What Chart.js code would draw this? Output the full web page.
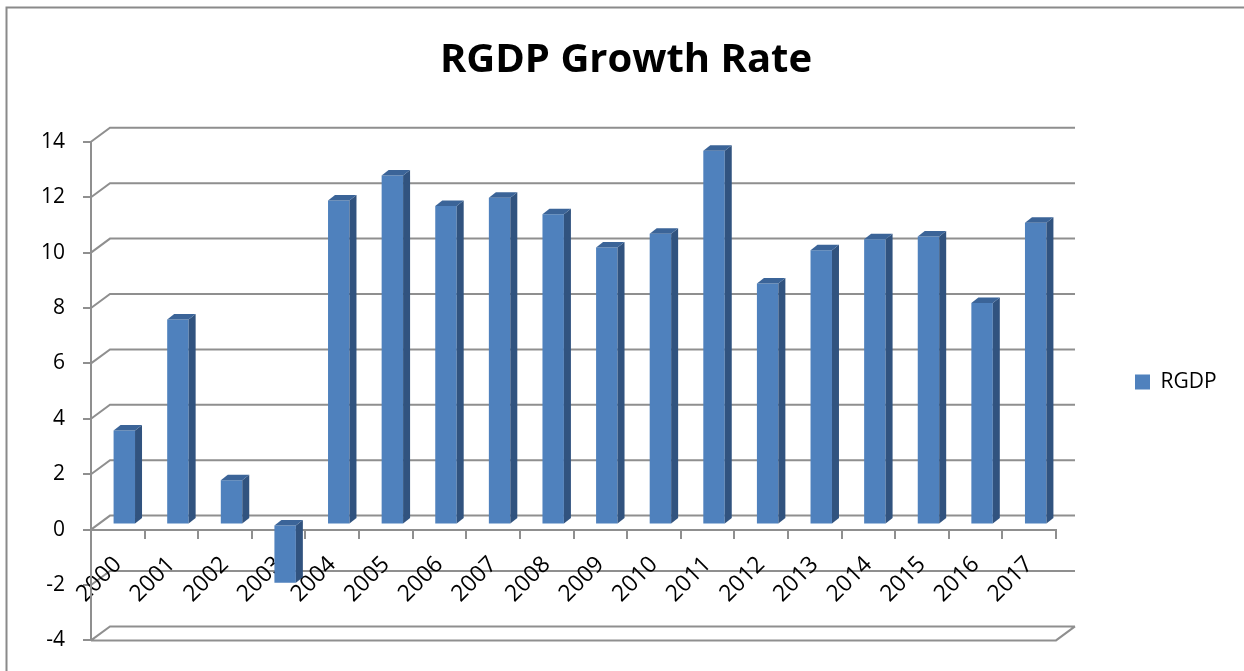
<!DOCTYPE html>
<html>
<head>
<meta charset="utf-8">
<style>
html,body{margin:0;padding:0;background:#fff;}
canvas{display:block;}
</style>
<script src="https://cdn.jsdelivr.net/npm/chart.js@4.4.1/dist/chart.umd.min.js"></script>
</head>
<body>
<canvas id="chart" width="1244" height="671"></canvas>
<script>
// ---- data ----
const titleText = 'RGDP Growth Rate';
const seriesName = 'RGDP';
const categories = ['2000','2001','2002','2003','2004','2005','2006','2007','2008','2009','2010','2011','2012','2013','2014','2015','2016','2017'];
const rgdpValues = [3.4, 7.4, 1.6, -2.1, 11.7, 12.6, 11.5, 11.8, 11.2, 10.0, 10.5, 13.5, 8.7, 9.9, 10.3, 10.4, 8.0, 10.9];
const yTickValues = [-4, -2, 0, 2, 4, 6, 8, 10, 12, 14];

// ---- style ----
const FONT = 'Open Sans';
const GRID = '#8f8f8f';
const FRONT = '#4f81bd';
const SIDE = '#31537f';
const TOPC = '#3b6498';
const WALL = {dx: 19, dy: 14};      // depth of the back wall
const BAR_SHIFT = {dx: 6.5, dy: -5}; // bar plane inside the depth
const BAR_DEPTH = {dx: 7, dy: 5.5};  // bar 3d thickness

const LEGEND_FONT = 21, LEGEND_BOX = 15, LEGEND_PAD = 10;
const mctx = document.createElement('canvas').getContext('2d');
mctx.font = LEGEND_FONT + 'px ' + FONT;
const legendW = LEGEND_BOX + LEGEND_FONT / 2 + mctx.measureText(seriesName).width + LEGEND_PAD + 10;
const AREA_RIGHT = 1056;

const threeD = {
  id: 'threeD',
  beforeDraw(chart) {
    const ctx = chart.ctx;
    ctx.save();
    ctx.fillStyle = '#fff';
    ctx.fillRect(0, 0, chart.width, chart.height);
    ctx.strokeStyle = '#8a8a8a';
    ctx.lineWidth = 2;
    ctx.strokeRect(6.5, 7.5, chart.width + 20, chart.height + 20);
    const a = chart.chartArea;
    const ys = chart.scales.y;
    ctx.strokeStyle = GRID;
    ctx.lineWidth = 2;
    ctx.beginPath();
    ys.ticks.forEach(t => {
      const y = ys.getPixelForValue(t.value);
      ctx.moveTo(a.left, y);
      ctx.lineTo(a.left + WALL.dx, y - WALL.dy);
      ctx.lineTo(a.right + WALL.dx, y - WALL.dy);
    });
    const yb = ys.getPixelForValue(ys.min);
    ctx.moveTo(a.left, yb);
    ctx.lineTo(a.right, yb);
    ctx.lineTo(a.right + WALL.dx, yb - WALL.dy);
    ctx.stroke();
    ctx.restore();
  },
  beforeDatasetsDraw(chart) {
    chart.ctx.save();
    chart.ctx.translate(BAR_SHIFT.dx, BAR_SHIFT.dy);
  },
  afterDatasetsDraw(chart) {
    const ctx = chart.ctx;
    const meta = chart.getDatasetMeta(0);
    meta.data.forEach(bar => {
      const p = bar.getProps(['x', 'y', 'base', 'width'], true);
      const l = p.x - p.width / 2, r = p.x + p.width / 2;
      const top = Math.min(p.y, p.base), bottom = Math.max(p.y, p.base);
      ctx.fillStyle = SIDE;
      ctx.beginPath();
      ctx.moveTo(r, top);
      ctx.lineTo(r + BAR_DEPTH.dx, top - BAR_DEPTH.dy);
      ctx.lineTo(r + BAR_DEPTH.dx, bottom - BAR_DEPTH.dy);
      ctx.lineTo(r, bottom);
      ctx.closePath();
      ctx.fill();
      ctx.fillStyle = TOPC;
      ctx.beginPath();
      ctx.moveTo(l, top);
      ctx.lineTo(l + BAR_DEPTH.dx, top - BAR_DEPTH.dy);
      ctx.lineTo(r + BAR_DEPTH.dx, top - BAR_DEPTH.dy);
      ctx.lineTo(r, top);
      ctx.closePath();
      ctx.fill();
    });
    ctx.restore();
  },
  afterLayout(chart) {
    const t = chart.titleBlock;
    if (t) { t.left = 0; t.right = chart.width + 8; t.width = t.right - t.left; }
    const lg = chart.legend;
    if (lg) {
      const w = lg.width;
      lg.left = 1135 - LEGEND_PAD; lg.right = lg.left + w;
      lg.top -= 9; lg.bottom -= 9;
    }
  }
};

new Chart(document.getElementById('chart'), {
  type: 'bar',
  data: {
    labels: categories,
    datasets: [{
      label: seriesName,
      data: rgdpValues,
      backgroundColor: FRONT,
      borderWidth: 0,
      categoryPercentage: 1,
      barPercentage: 0.4
    }]
  },
  options: {
    responsive: false,
    animation: false,
    devicePixelRatio: 1,
    layout: { padding: { left: 0, top: 0, right: 1244 - AREA_RIGHT - legendW, bottom: 29.3 } },
    plugins: {
      title: {
        display: true,
        text: titleText,
        color: '#000',
        font: { family: FONT, size: 40, weight: 'bold', lineHeight: 1.2 },
        padding: { top: 37, bottom: 56.8 }
      },
      legend: {
        position: 'right',
        fullSize: false,
        labels: {
          boxWidth: LEGEND_BOX, boxHeight: LEGEND_BOX, padding: LEGEND_PAD,
          color: '#000',
          font: { family: FONT, size: LEGEND_FONT }
        }
      },
      tooltip: { enabled: false }
    },
    scales: {
      x: {
        position: { y: 0 },
        offset: true,
        z: 1,
        grid: { display: true, drawOnChartArea: false, drawTicks: true, tickLength: 8, color: GRID, lineWidth: 2, offset: true },
        border: { display: true, color: GRID, width: 2 },
        ticks: {
          autoSkip: false, minRotation: 45, maxRotation: 45, padding: 20, labelOffset: 0,
          color: '#000',
          font: { family: FONT, size: 23, lineHeight: 0.4 }
        }
      },
      y: {
        min: yTickValues[0],
        max: yTickValues[yTickValues.length - 1],
        afterBuildTicks: s => { s.ticks = yTickValues.map(v => ({ value: v })); },
        afterFit: s => { s.width = 91; },
        grid: { display: true, drawOnChartArea: false, drawTicks: true, tickLength: 8, color: GRID, lineWidth: 2 },
        border: { display: true, color: GRID, width: 2 },
        ticks: { padding: 18, color: '#000', font: { family: FONT, size: 21 } }
      }
    }
  },
  plugins: [threeD]
});
</script>
</body>
</html>
